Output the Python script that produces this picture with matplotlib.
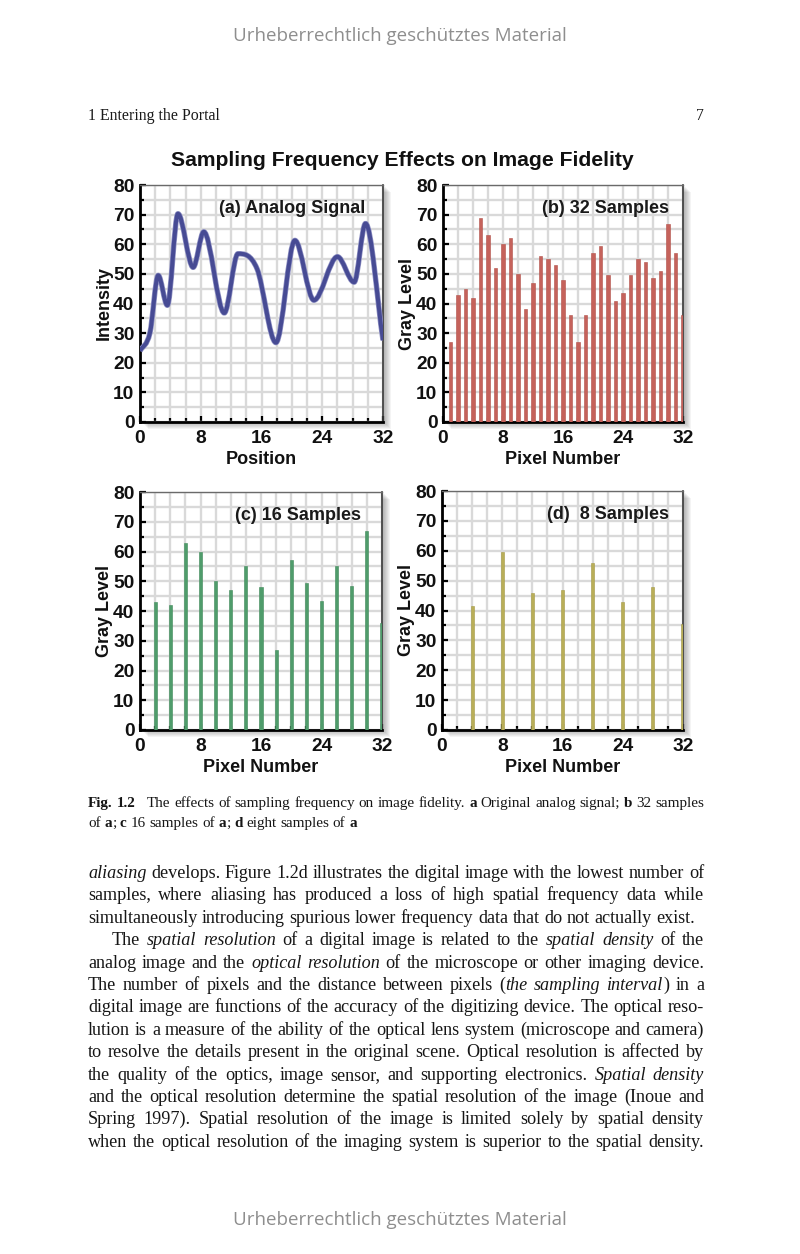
import matplotlib
matplotlib.use('Agg')
import matplotlib.pyplot as plt
from matplotlib.path import Path
from matplotlib.patches import PathPatch, Rectangle
import numpy as np

# ---------------- data ----------------
analog_x = [0, 1.3, 2.4, 3.6, 5.0, 7.0, 8.4, 11.1, 12.9, 15.4, 17.9, 20.4, 22.9, 26.0, 28.2, 29.7, 32]
analog_y = [24, 30, 49.5, 39.4, 70.3, 52.2, 64.2, 36.8, 56.8, 51.8, 26.8, 61.3, 41.1, 55.8, 47.2, 67.0, 27.6]

pix32 = list(range(1, 33))
gray32 = [27, 43, 45, 42, 69, 63, 52, 60, 62, 50, 38, 47, 56, 55, 53, 48,
          36, 27, 36, 57, 59.5, 49.5, 41, 43.5, 49.5, 55, 54, 48.5, 51, 67, 57, 36]

pix16 = list(range(2, 33, 2))
gray16 = [43, 42, 63, 60, 50, 47, 55, 48, 27, 57, 49.5, 43.5, 55, 48.5, 67, 36]

pix8 = list(range(4, 33, 4))
gray8 = [41.5, 59.5, 46, 47, 56, 43, 48, 35.5]

x_major = [0, 8, 16, 24, 32]
y_major = [0, 10, 20, 30, 40, 50, 60, 70, 80]

panel_titles = ["(a) Analog Signal", "(b) 32 Samples", "(c) 16 Samples", "(d)  8 Samples"]
x_labels = ["Position", "Pixel Number", "Pixel Number", "Pixel Number"]
y_labels = ["Intensity", "Gray Level", "Gray Level", "Gray Level"]

figure_title = "Sampling Frequency Effects on Image Fidelity"
watermark = "Urheberrechtlich geschütztes Material"
running_head = "1 Entering the Portal"
page_number = "7"

caption_lines = [
    "^Fig. 1.2^   The effects of sampling frequency on image fidelity. ^a^ Original analog signal; ^b^ 32 samples",
    "of ^a^; ^c^ 16 samples of ^a^; ^d^ eight samples of ^a^",
]

body_lines = [
    "_aliasing_ develops. Figure 1.2d illustrates the digital image with the lowest number of",
    "samples, where aliasing has produced a loss of high spatial frequency data while",
    "simultaneously introducing spurious lower frequency data that do not actually exist.",
    "The _spatial resolution_ of a digital image is related to the _spatial density_ of the",
    "analog image and the _optical resolution_ of the microscope or other imaging device.",
    "The number of pixels and the distance between pixels (_the sampling interval_) in a",
    "digital image are functions of the accuracy of the digitizing device. The optical reso-",
    "lution is a measure of the ability of the optical lens system (microscope and camera)",
    "to resolve the details present in the original scene. Optical resolution is affected by",
    "the quality of the optics, image sensor, and supporting electronics. _Spatial density_",
    "and the optical resolution determine the spatial resolution of the image (Inoue and",
    "Spring 1997). Spatial resolution of the image is limited solely by spatial density",
    "when the optical resolution of the imaging system is superior to the spatial density.",
]
body_justify = [True, True, False, True, True, True, True, True, True, True, True, True, True]
body_indent = [0, 0, 0, 24, 0, 0, 0, 0, 0, 0, 0, 0, 0]

# ---------------- figure ----------------
W, H = 800, 1254
fig = plt.figure(figsize=(W / 100, H / 100), dpi=100)
fig.patch.set_facecolor('white')


def fx(px):
    return px / W


def fy(py):
    return 1 - py / H


SANS = ['Liberation Sans', 'DejaVu Sans']
SERIF = ['Liberation Serif', 'DejaVu Serif']

# axes boxes in pixels: left, top, right, bottom
boxes = [(140, 185, 383, 422), (443, 185, 683, 422),
         (140, 492, 382, 730), (442, 491, 683, 730)]
tag_pos = [(0.925, 0.9), (0.94, 0.9), (0.915, 0.9), (0.94, 0.9)]

axes = []
for (l, t, r, b) in boxes:
    # drop shadow
    for k in range(1, 8):
        fig.patches.append(Rectangle((fx(l + k + 1), fy(b + k)), fx(r - l), (b - t) / H,
                                     transform=fig.transFigure, facecolor='black',
                                     edgecolor='none', alpha=0.045, zorder=0))
    ax = fig.add_axes([fx(l), fy(b), fx(r - l), (b - t) / H])
    ax.set_zorder(2)
    axes.append(ax)


def style_axes(ax, xlabel, ylabel, tag, tpos):
    ax.set_facecolor('white')
    ax.set_xlim(0, 32)
    ax.set_ylim(0, 80)
    ax.set_xticks(x_major)
    ax.set_yticks(y_major)
    ax.set_xticks(np.arange(0, 33, 2), minor=True)
    ax.set_yticks(np.arange(0, 81, 5), minor=True)
    ax.grid(which='both', color='#d9d9d9', lw=1.7)
    ax.set_axisbelow(True)
    ax.tick_params(which='both', direction='in', color='black', width=1.6,
                   top=False, right=False)
    ax.tick_params(which='major', length=4.5, labelsize=13.8)
    ax.tick_params(axis='x', which='major', pad=6)
    ax.tick_params(axis='y', which='major', pad=4)
    ax.tick_params(which='minor', length=3)
    for lbl in ax.get_xticklabels() + ax.get_yticklabels():
        lbl.set_fontweight('bold')
        lbl.set_fontfamily(SANS)
        lbl.set_color('#111111')
    ax.spines['left'].set_linewidth(2.0)
    ax.spines['bottom'].set_linewidth(2.0)
    ax.spines['left'].set_color('black')
    ax.spines['bottom'].set_color('black')
    ax.spines['top'].set_linewidth(1.0)
    ax.spines['top'].set_color('#6a6a6a')
    ax.spines['right'].set_linewidth(1.2)
    ax.spines['right'].set_color('#3a3a3a')
    ax.set_xlabel(xlabel, fontsize=13, fontweight='bold', family=SANS, labelpad=3,
                  color='#111111')
    ax.set_ylabel(ylabel, fontsize=13, fontweight='bold', family=SANS, labelpad=0,
                  color='#111111')
    ax.text(tpos[0], tpos[1], tag, transform=ax.transAxes, ha='right', va='center',
            fontsize=13, fontweight='bold', family=SANS, color='#1a1a1a', zorder=5)


# panel (a): smooth analog curve through the read points
xa = np.array(analog_x, float)
ya = np.array(analog_y, float)
n = len(xa)
slopes = np.zeros(n)
for i in range(n):
    if i == 0:
        slopes[i] = (ya[1] - ya[0]) / (xa[1] - xa[0])
    elif i == n - 1:
        slopes[i] = (ya[-1] - ya[-2]) / (xa[-1] - xa[-2])
    elif (ya[i] - ya[i - 1]) * (ya[i + 1] - ya[i]) < 0:
        slopes[i] = 0.0
    else:
        slopes[i] = (ya[i + 1] - ya[i - 1]) / (xa[i + 1] - xa[i - 1])
verts = [(xa[0], ya[0])]
codes = [Path.MOVETO]
for i in range(n - 1):
    h = xa[i + 1] - xa[i]
    verts += [(xa[i] + h / 3, ya[i] + slopes[i] * h / 3),
              (xa[i + 1] - h / 3, ya[i + 1] - slopes[i + 1] * h / 3),
              (xa[i + 1], ya[i + 1])]
    codes += [Path.CURVE4] * 3
axes[0].add_patch(PathPatch(Path(verts, codes), fill=False, edgecolor='#9092c4',
                            lw=3.9, capstyle='butt', joinstyle='round', zorder=3))
axes[0].add_patch(PathPatch(Path(verts, codes), fill=False, edgecolor='#474b94',
                            lw=2.9, capstyle='butt', joinstyle='round', zorder=4))

axes[1].bar(pix32, gray32, width=0.42, color='#c5625b', edgecolor='#b24f48', lw=0.4, zorder=3)
axes[2].bar(pix16, gray16, width=0.42, color='#4f9c6b', edgecolor='#3f8a5a', lw=0.4, zorder=3)
axes[3].bar(pix8, gray8, width=0.42, color='#b9ae58', edgecolor='#a49a45', lw=0.4, zorder=3)

for i, ax in enumerate(axes):
    style_axes(ax, x_labels[i], y_labels[i], panel_titles[i], tag_pos[i])

# ---------------- page text ----------------
fig.text(0.5, fy(36), watermark, ha='center', va='center', fontsize=13.5,
         family=['Open Sans', 'DejaVu Sans'], color='#8e8e8e')
fig.text(0.5, fy(1220), watermark, ha='center', va='center', fontsize=13.5,
         family=['Open Sans', 'DejaVu Sans'], color='#8e8e8e')
fig.text(fx(88), fy(120), running_head, ha='left', va='baseline', fontsize=11.4,
         family=SERIF, color='#1a1a1a')
fig.text(fx(704), fy(120), page_number, ha='right', va='baseline', fontsize=11.4,
         family=SERIF, color='#1a1a1a')
fig.text(fx(402), fy(160), figure_title, ha='center', va='center', fontsize=15.2,
         fontweight='bold', family=SANS, color='#111111')

renderer = fig.canvas.get_renderer()


def parse(line):
    words = []
    style = 'normal'
    for raw in line.split(' '):
        pieces = []
        cur = ''
        for ch in raw:
            if ch in '_^':
                if cur:
                    pieces.append((cur, style))
                    cur = ''
                target = 'italic' if ch == '_' else 'bold'
                style = 'normal' if style == target else target
            else:
                cur += ch
        if cur:
            pieces.append((cur, style))
        words.append(pieces)
    return words


def draw_line(line, x0, x1, ybase, size, justify=True, indent=0):
    words = parse(line)
    placed = []
    widths = []
    for w in words:
        group = []
        tot = 0.0
        for txt, st in w:
            t = fig.text(0, fy(ybase), txt, fontsize=size, family=SERIF,
                         style='italic' if st == 'italic' else 'normal',
                         weight='bold' if st == 'bold' else 'normal',
                         va='baseline', ha='left', color='#161616')
            wd = t.get_window_extent(renderer).width
            group.append((t, wd))
            tot += wd
        placed.append(group)
        widths.append(tot)
    probe = fig.text(0, 0, 'a a', fontsize=size, family=SERIF)
    probe2 = fig.text(0, 0, 'aa', fontsize=size, family=SERIF)
    sp = probe.get_window_extent(renderer).width - probe2.get_window_extent(renderer).width
    probe.remove()
    probe2.remove()
    if justify and len(words) > 1:
        gap = (x1 - x0 - indent - sum(widths)) / (len(words) - 1)
    else:
        gap = sp
    x = x0 + indent
    for group in placed:
        for t, wd in group:
            t.set_x(fx(x))
            x += wd
        x += gap


draw_line(caption_lines[0], 88, 704, 807, 10.9, justify=True)
draw_line(caption_lines[1], 88, 704, 827, 10.9, justify=False)

body_y0 = 878
body_dy = 22.4
for i, line in enumerate(body_lines):
    draw_line(line, 88, 704, body_y0 + i * body_dy, 13.1,
              justify=body_justify[i], indent=body_indent[i])

fig.savefig('out.png', dpi=100, facecolor='white')
